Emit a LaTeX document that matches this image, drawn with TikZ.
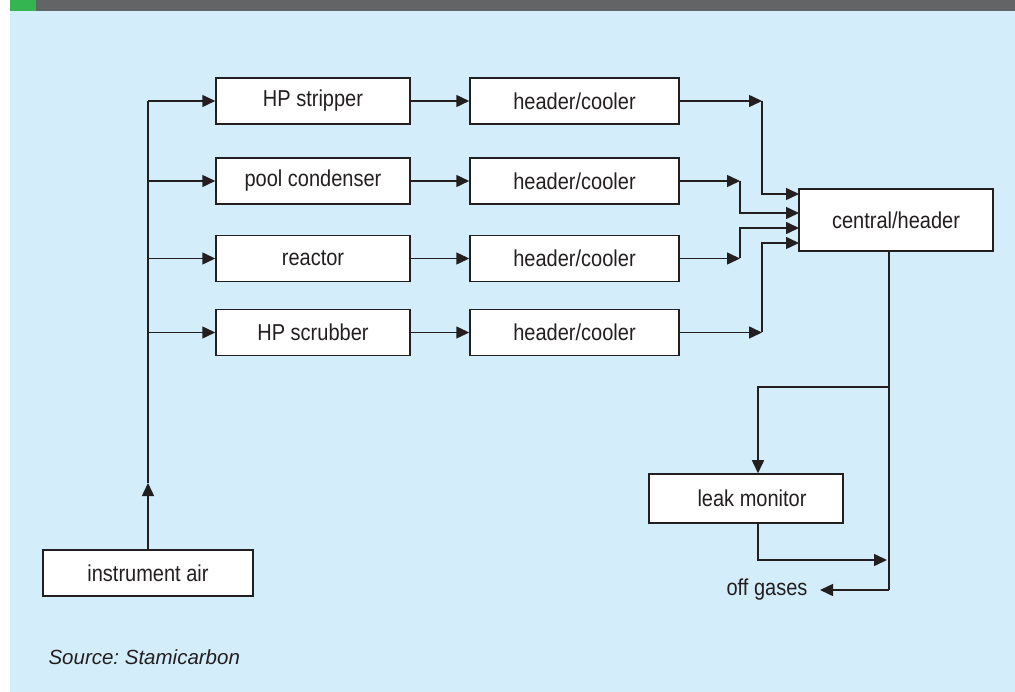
\documentclass[tikz,border=0pt]{standalone}
\usepackage{fontspec}
\setmainfont{Liberation Sans}
\newfontfamily\condfont[FakeStretch=0.87]{Liberation Sans}
\usetikzlibrary{arrows.meta,positioning}
\definecolor{skyback}{RGB}{211,238,250}
\definecolor{barfill}{RGB}{99,100,102}
\definecolor{bargreen}{RGB}{53,180,82}
\definecolor{linegrey}{RGB}{35,31,32}
\frenchspacing

\begin{document}
\begin{tikzpicture}[x=1pt,y=-1pt,
	box/.style={draw=linegrey,line width=1.5pt,fill=white,inner sep=0pt,minimum height=46pt,text=linegrey,font=\condfont\fontsize{23}{23}\selectfont},
	pipe/.style={draw=linegrey,line width=1.5pt},
	flow/.style={pipe,-{Triangle[length=13pt,width=12pt]}}]
				
				\useasboundingbox (0,0) rectangle (1015,692);
				\fill[skyback] (10,11) rectangle (1015,692);
				\fill[barfill] (10,0) rectangle (1015,11);
				\fill[bargreen] (10,0) rectangle (36,11);
				
				\node[box,minimum width=194pt] (strip) at (313,101) {HP stripper};
				\node[box,minimum width=194pt] (pool) at (313,181) {pool condenser};
				\node[box,minimum width=194pt] (reac) at (313,258.5) {reactor};
				\node[box,minimum width=194pt] (scrub) at (313,332.5) {HP scrubber};
				
				\node[box,minimum width=209pt] (hc1) at (574.5,101) {header/cooler};
				\node[box,minimum width=209pt] (hc2) at (574.5,181) {header/cooler};
				\node[box,minimum width=209pt] (hc3) at (574.5,258.5) {header/cooler};
				\node[box,minimum width=209pt] (hc4) at (574.5,332.5) {header/cooler};
				
				\node[box,minimum width=194pt,minimum height=62pt] (central) at (896,220) {central/header};
				\node[box,minimum width=194pt,minimum height=49pt] (leak) at (746,498.5) {\hspace{12pt}leak monitor};
				\node[box,minimum width=210pt] (air) at (148,573) {instrument air};
				
				\node[text=linegrey,font=\condfont\fontsize{23}{23}\selectfont] (gas) at (767,590) {off gases};
				\node[anchor=west,text=linegrey,font=\itshape\fontsize{20.5}{20.5}\selectfont] (src) at (45,657) {Source: Stamicarbon};
				
				% feed line
				\coordinate (top) at (148,101);
				\coordinate (airup) at (148,483);
				\draw[flow] (air.north) -- (airup);
				\draw[pipe] (airup) -- (top);
				\draw[flow] (top) -- (strip.west);
				\draw[flow] (pool.west -| top) -- (pool.west);
				\draw[flow] (reac.west -| top) -- (reac.west);
				\draw[flow] (scrub.west -| top) -- (scrub.west);
				
				\draw[flow] (strip) -- (hc1);
				\draw[flow] (pool) -- (hc2);
				\draw[flow] (reac) -- (hc3);
				\draw[flow] (scrub) -- (hc4);
				
				% into central header
				\coordinate (c1) at (762,101);
				\coordinate (c2) at (740,181);
				\coordinate (c3) at (740,258.5);
				\coordinate (c4) at (762,332.5);
				\coordinate (in1) at (799,194);
				\coordinate (in2) at (799,213);
				\coordinate (in3) at (799,228);
				\coordinate (in4) at (799,243);
				\draw[flow] (hc1.east) -- (c1);
				\draw[flow] (c1) |- (in1);
				\draw[flow] (hc2.east) -- (c2);
				\draw[flow] (c2) |- (in2);
				\draw[flow] (hc3.east) -- (c3);
				\draw[flow] (c3) |- (in3);
				\draw[flow] (hc4.east) -- (c4);
				\draw[flow] (c4) |- (in4);
				
				% outlet
				\coordinate (split) at (889,387);
				\coordinate (outlet) at (889,590);
				\coordinate (rejoin) at (887,560);
				\coordinate (gasin) at (820,590);
				\draw[pipe] (central.south -| split) -- (outlet);
				\draw[flow] (split) -| ([xshift=12pt]leak.north);
				\draw[flow] ([xshift=12pt]leak.south) |- (rejoin);
				\draw[flow] (outlet) -- (gasin);
			\end{tikzpicture}
\end{document}
